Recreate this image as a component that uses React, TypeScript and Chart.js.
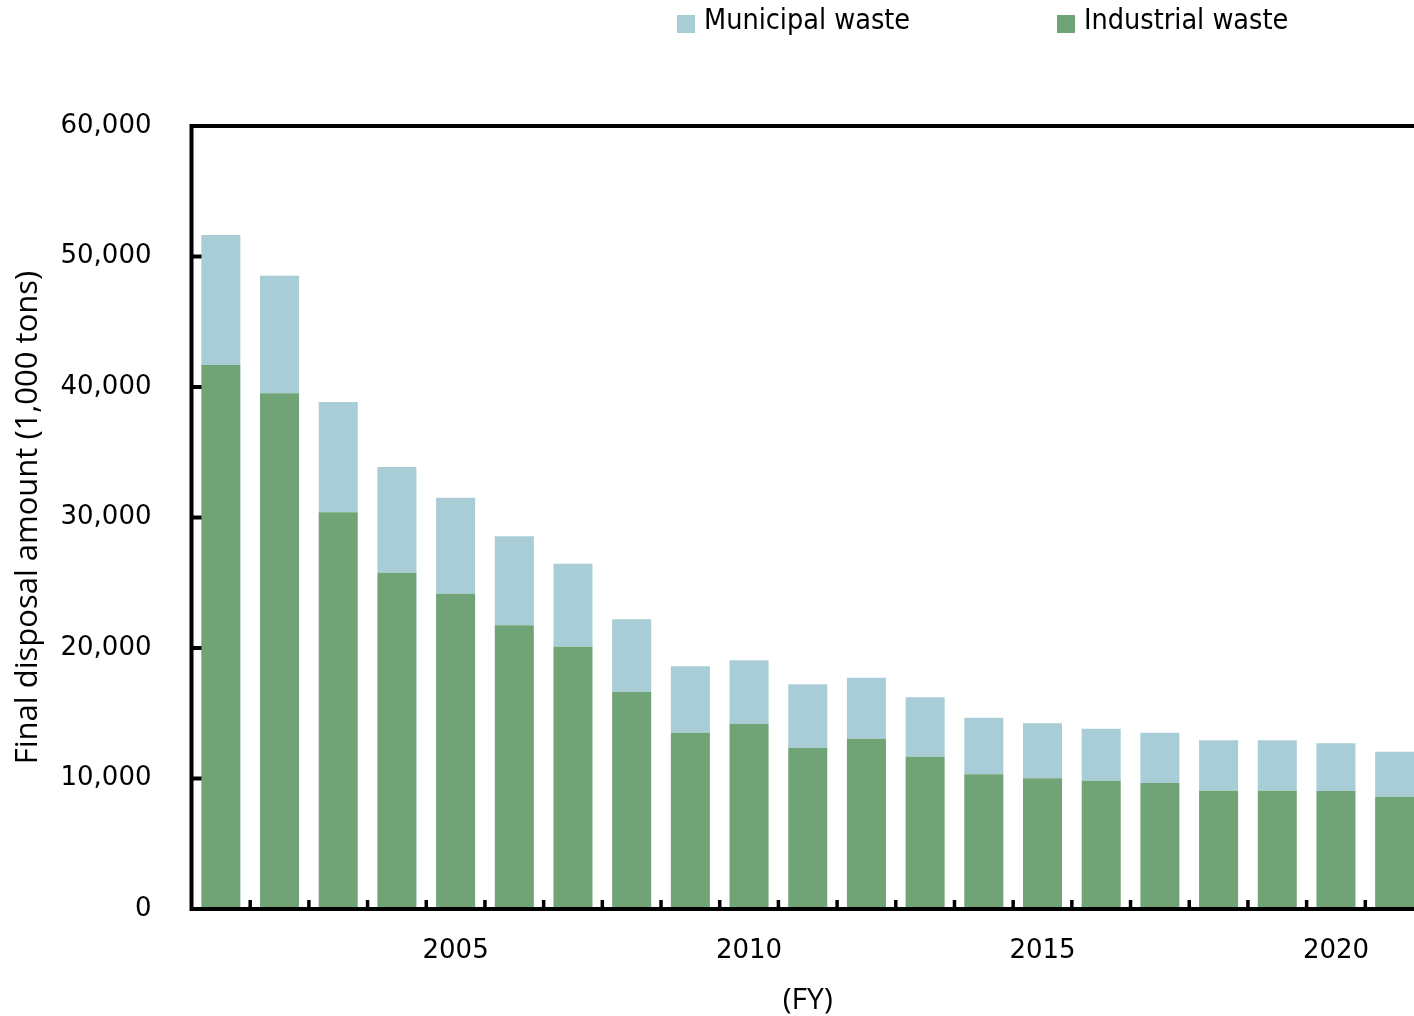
import { useEffect, useRef } from 'react';
import { Chart, registerables } from 'chart.js';

Chart.register(...registerables);

// Final disposal amount by fiscal year, in 1,000 tons
const fiscalYears = [
  2001, 2002, 2003, 2004, 2005, 2006, 2007, 2008, 2009, 2010, 2011,
  2012, 2013, 2014, 2015, 2016, 2017, 2018, 2019, 2020, 2021,
];
const industrialWaste = [
  41690, 39520, 30400, 25770, 24160, 21740, 20100, 16650, 13510, 14200, 12360,
  13050, 11670, 10320, 10020, 9830, 9660, 9070, 9070, 9040, 8610,
];
const municipalWaste = [
  9960, 9010, 8450, 8100, 7360, 6820, 6360, 5550, 5090, 4860, 4860,
  4670, 4550, 4340, 4210, 3990, 3850, 3860, 3860, 3660, 3440,
];
const yTickValues = [0, 10000, 20000, 30000, 40000, 50000, 60000];
const labeledYears = [2005, 2010, 2015, 2020];

const MUNICIPAL_COLOR = '#a9cdd6';
const INDUSTRIAL_COLOR = '#70a375';

const legendItems = [
  { label: 'Municipal waste', color: MUNICIPAL_COLOR, x: 677 },
  { label: 'Industrial waste', color: INDUSTRIAL_COLOR, x: 1057 },
];

// Thick black frame plus inward-pointing tick marks
const framePlugin = {
  id: 'frame',
  afterDatasetsDraw(chart: any) {
    const { ctx, chartArea: a, scales } = chart;
    ctx.save();
    ctx.strokeStyle = '#000';
    ctx.lineJoin = 'miter';
    ctx.lineWidth = 4;
    ctx.beginPath();
    ctx.moveTo(a.left, a.bottom);
    ctx.lineTo(a.left, a.top);
    ctx.lineTo(a.right, a.top);
    ctx.lineTo(a.right, a.bottom);
    ctx.closePath();
    ctx.stroke();

    // y ticks
    ctx.lineWidth = 4;
    yTickValues.slice(1, -1).forEach((v) => {
      const y = scales.y.getPixelForValue(v);
      ctx.beginPath();
      ctx.moveTo(a.left, y);
      ctx.lineTo(a.left + 10, y);
      ctx.stroke();
    });

    // x ticks between categories
    ctx.lineWidth = 3.5;
    for (let i = 1; i < fiscalYears.length; i++) {
      const x = (scales.x.getPixelForValue(i - 1) + scales.x.getPixelForValue(i)) / 2;
      ctx.beginPath();
      ctx.moveTo(x, a.bottom);
      ctx.lineTo(x, a.bottom - 9);
      ctx.stroke();
    }
    ctx.restore();
  },
};

// Legend row at the top
const legendPlugin = {
  id: 'topLegend',
  afterDraw(chart: any) {
    const { ctx } = chart;
    ctx.save();
    ctx.font = '28.5px "DejaVu Sans Condensed", "DejaVu Sans", sans-serif';
    ctx.textBaseline = 'middle';
    ctx.textAlign = 'left';
    legendItems.forEach((item) => {
      ctx.fillStyle = item.color;
      ctx.fillRect(item.x, 15, 18, 18);
      ctx.fillStyle = '#000';
      ctx.fillText(item.label, item.x + 27, 22);
    });
    ctx.restore();
  },
};

export default function App() {
  const canvasRef = useRef<HTMLCanvasElement | null>(null);

  useEffect(() => {
    if (!canvasRef.current) return;
    const chart = new Chart(canvasRef.current, {
      type: 'bar',
      data: {
        labels: fiscalYears.map(String),
        datasets: [
          {
            label: 'Industrial waste',
            data: industrialWaste,
            backgroundColor: INDUSTRIAL_COLOR,
            stack: 'total',
            barPercentage: 0.665,
            categoryPercentage: 1,
          },
          {
            label: 'Municipal waste',
            data: municipalWaste,
            backgroundColor: MUNICIPAL_COLOR,
            stack: 'total',
            barPercentage: 0.665,
            categoryPercentage: 1,
          },
        ],
      },
      options: {
        animation: false,
        responsive: true,
        maintainAspectRatio: false,
        layout: { padding: { left: 0, right: 16, top: 126, bottom: 0 } },
        plugins: {
          legend: { display: false },
          tooltip: { enabled: false },
        },
        scales: {
          x: {
            stacked: true,
            grid: { display: false },
            border: { display: false },
            afterFit: (scale: any) => {
              scale.height = 107;
            },
            ticks: {
              autoSkip: false,
              maxRotation: 0,
              padding: 19,
              color: '#000',
              font: { family: '"DejaVu Sans", sans-serif', size: 26 },
              callback: (_v: any, i: number) =>
                labeledYears.includes(fiscalYears[i]) ? String(fiscalYears[i]) : '',
            },
            title: {
              display: true,
              text: '(FY)',
              color: '#000',
              font: { family: '"Open Sans", sans-serif', size: 30, lineHeight: 1 },
              padding: { top: 0, bottom: 1 },
            },
          },
          y: {
            stacked: true,
            min: 0,
            max: 60000,
            grid: { display: false },
            border: { display: false },
            afterFit: (scale: any) => {
              scale.width = 191.5;
            },
            ticks: {
              stepSize: 10000,
              padding: 32,
              color: '#000',
              font: { family: '"DejaVu Sans", sans-serif', size: 26 },
              callback: (v: any) => Number(v).toLocaleString('en-US'),
            },
            title: {
              display: true,
              text: 'Final disposal amount (1,000 tons)',
              color: '#000',
              font: { family: '"Open Sans", sans-serif', size: 31, lineHeight: 1.2 },
              padding: { top: 10, bottom: 0 },
            },
          },
        },
      },
      plugins: [framePlugin, legendPlugin],
    });
    return () => chart.destroy();
  }, []);

  return (
    <div
      style={{
        position: 'fixed',
        left: 0,
        top: 0,
        width: 1414,
        height: 1016,
        overflow: 'hidden',
        background: '#fff',
      }}
    >
      <div style={{ position: 'relative', width: 1440, height: 1016 }}>
        <canvas ref={canvasRef} style={{ display: 'block' }} />
      </div>
    </div>
  );
}
